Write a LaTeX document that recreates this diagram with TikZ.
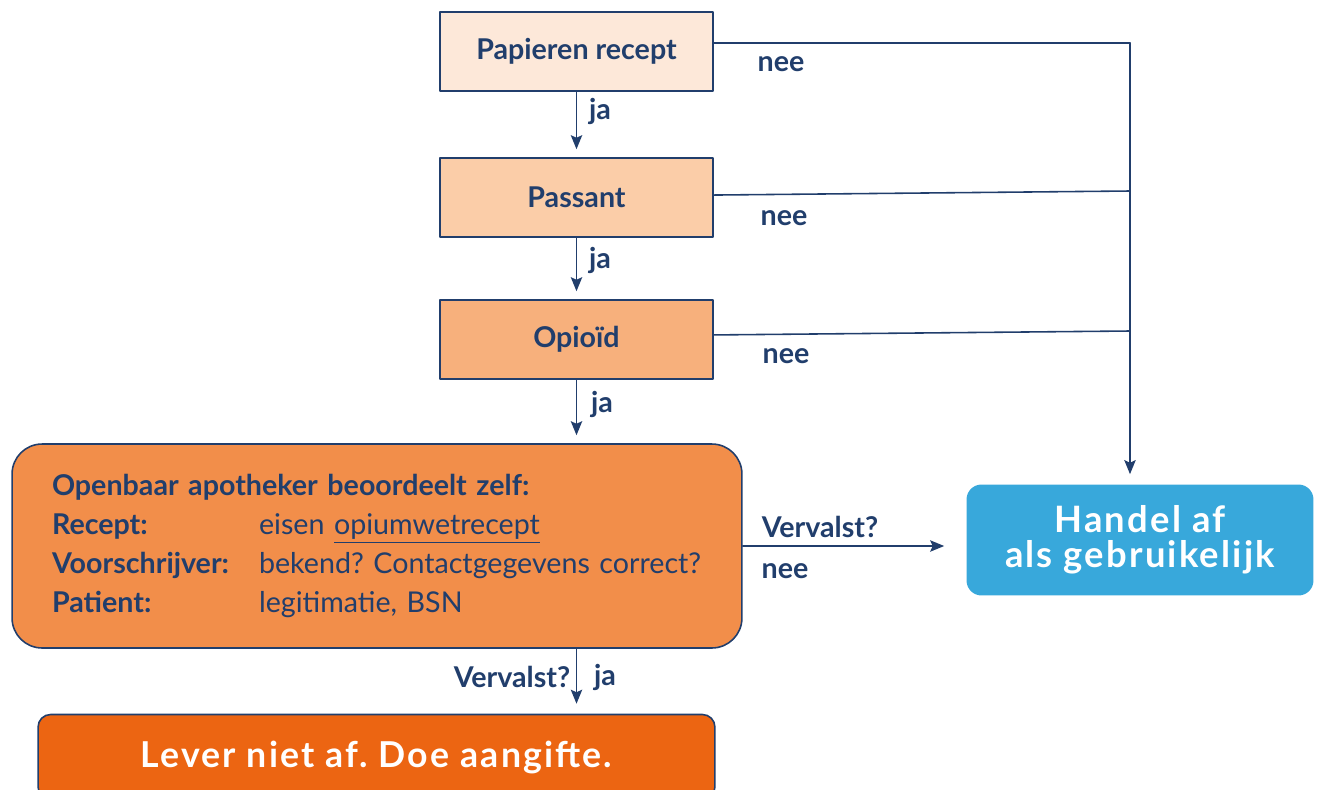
\documentclass[tikz,border=0pt]{standalone}
\usepackage{fontspec}
\setmainfont{Lato}
\newfontfamily\spatie[LetterSpace=6]{Lato}
\usetikzlibrary{positioning,arrows.meta}
\frenchspacing
\definecolor{donkerblauw}{HTML}{213E6C}
\definecolor{perzik}{HTML}{FDE8D9}
\definecolor{zalm}{HTML}{FBCDA8}
\definecolor{abrikoos}{HTML}{F7B07C}
\definecolor{oranje}{HTML}{F28E4A}
\definecolor{feloranje}{HTML}{EC6512}
\definecolor{hemel}{HTML}{38A8DB}
\tikzset{
  vraag/.style={draw=donkerblauw, line width=0.9pt, minimum width=5.46cm, minimum height=1.58cm, text=donkerblauw},
  label/.style={text=donkerblauw, inner sep=0pt},
  pijl/.style={->, draw=donkerblauw, line width=0.9pt},
  lijn/.style={draw=donkerblauw, line width=0.9pt}
}
\begin{document}
\frenchspacing
\begin{tikzpicture}[x=0.02cm, y=-0.02cm, >={Stealth[length=8pt,width=6.5pt,inset=1.5pt]}, font=\bfseries\fontsize{16.3}{19}\selectfont, line join=round, line cap=round]
		\useasboundingbox (0,0) rectangle (1320,789);
		% vragen
		\node[vraag, fill=perzik] (pap) at (576.5,51.5) {Papieren recept};
		\node[vraag, fill=zalm] (pas) at (576.5,197.5) {Passant};
		\node[vraag, fill=abrikoos] (opi) at (576.5,339.5) {Opioïd};
		\node[draw=donkerblauw, line width=0.9pt, fill=oranje, rounded corners=0.6cm, minimum width=14.6cm, minimum height=4.08cm,
			text width=13cm, inner xsep=0.8cm, align=left, text=donkerblauw, font=\bfseries\fontsize{16.3}{22.1}\selectfont] (groot) at (377,546)
			{Openbaar apotheker beoordeelt zelf:\\
			\makebox[4.14cm][l]{Recept:}{\mdseries eisen \underline{opiumwetrecept}}\\
			\makebox[4.14cm][l]{Voorschrijver:}{\mdseries bekend? Contactgegevens correct?}\\
			\makebox[4.14cm][l]{Patient:}{\mdseries legitimatie, BSN}};
		\node[fill=hemel, rounded corners=0.3cm, minimum width=6.94cm, minimum height=2.22cm, align=center, text=white,
			font=\spatie\bfseries\fontsize{20.7}{19.8}\selectfont] (handel) at (1140,540) {Handel af\\als gebruikelijk};
		\node[draw=donkerblauw, line width=0.9pt, fill=feloranje, rounded corners=0.25cm, minimum width=13.54cm, minimum height=1.7cm,
			text=white, font=\spatie\bfseries\fontsize{20.3}{22}\selectfont] (lever) at (376.5,757) {Lever niet af. Doe aangifte.};
		% ja-pijlen
		\draw[pijl, shorten >=0.16cm] (pap) -- (pas);
		\draw[pijl, shorten >=0.16cm] (pas) -- (opi);
		\draw[pijl, shorten >=0.16cm] (opi.south) -- (opi.south|-groot.north);
		\draw[pijl, shorten >=0.2cm] (opi.south|-groot.south) -- (opi.south|-lever.north);
		% nee-lijnen
		\coordinate (knik) at (1130,43);
		\coordinate (knik2) at (1130,191);
		\coordinate (knik3) at (1130,331);
		\draw[lijn] (pap.east|-knik) -- (knik);
		\draw[lijn] ([yshift=1.4pt]pas.east) -- (knik2);
		\draw[lijn] ([yshift=2.6pt]opi.east) -- (knik3);
		\draw[pijl, shorten >=0.2cm] (knik) -- (knik|-handel.north);
		\draw[pijl, shorten >=0.44cm] (groot.east) -- (groot.east-|handel.west);
		% labels
		\node[label] (ja1) at (600,111) {ja};
		\node[label] (ja2) at (600,260) {ja};
		\node[label] (ja3) at (602,404) {ja};
		\node[label] (ja4) at (605,677) {ja};
		\node[label] (nee1) at (781,64) {nee};
		\node[label] (nee2) at (784,218) {nee};
		\node[label] (nee3) at (786,356) {nee};
		\node[label] (nee4) at (785,571) {nee};
		\node[label] (verv1) at (820,527) {Vervalst?};
		\node[label] (verv2) at (512,677) {Vervalst?};
\end{tikzpicture}
\end{document}
